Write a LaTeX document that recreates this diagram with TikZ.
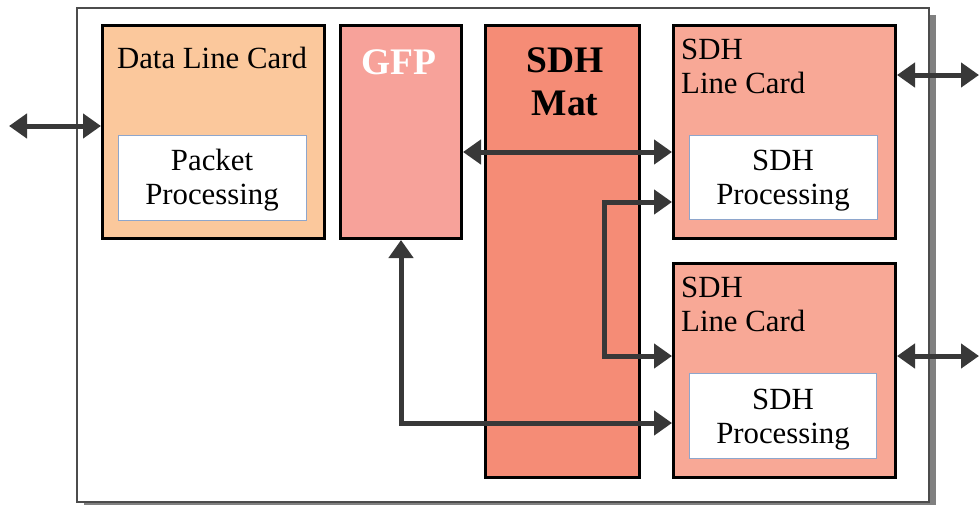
\documentclass[tikz,border=0pt]{standalone}
\usepackage{fontspec}
\setmainfont{Liberation Serif}
\usetikzlibrary{arrows.meta}
\definecolor{dlcfill}{HTML}{FBC89C}
\definecolor{gfpfill}{HTML}{F7A29A}
\definecolor{matfill}{HTML}{F58C76}
\definecolor{cardfill}{HTML}{F8A896}
\definecolor{arrcol}{HTML}{383838}
\definecolor{innerborder}{HTML}{8EA6CC}
\tikzset{
  card/.style={draw=black, line width=3pt, anchor=north west, inner sep=0pt},
  innerbox/.style={draw=innerborder, line width=1pt, fill=white, anchor=north west, inner sep=0pt},
  txt/.style={inner sep=0pt, font=\fontsize{30.8}{34}\selectfont},
  btxt/.style={inner sep=0pt, font=\fontsize{37.5}{43}\selectfont\bfseries},
  conn/.style={draw=arrcol, line width=5pt},
  tipB/.style={{Triangle[length=18pt,width=24pt]}-{Triangle[length=18pt,width=24pt]}},
}
\begin{document}
\begin{tikzpicture}[x=1pt,y=-1pt]
\useasboundingbox (0,0) rectangle (979,504);
% frame with shadow
\fill[black!50] (84,15) rectangle (936,510);
\node[draw=black!70, line width=1.8pt, fill=white, anchor=north west, inner sep=0pt,
      minimum width=852pt, minimum height=494pt] (frame) at (76,7) {};
% boxes
\node[card, fill=dlcfill, minimum width=222pt, minimum height=213pt] (dlc) at (101,24) {};
\node[innerbox, minimum width=188pt, minimum height=85pt] (pp) at (118,135) {};
\node[card, fill=gfpfill, minimum width=121pt, minimum height=213pt] (gfp) at (339,24) {};
\node[card, fill=matfill, minimum width=154pt, minimum height=452pt] (mat) at (484,24) {};
\node[card, fill=cardfill, minimum width=222pt, minimum height=213pt] (c1) at (672,24) {};
\node[innerbox, minimum width=188pt, minimum height=84pt] (p1) at (689,135) {};
\node[card, fill=cardfill, minimum width=222pt, minimum height=214pt] (c2) at (672,262) {};
\node[innerbox, minimum width=187pt, minimum height=85pt] (p2) at (689,373) {};
% texts (base anchor = baseline of last line)
\node[txt, anchor=base] (tdlc) at (212,68) {Data Line Card};
\node[txt, anchor=base, align=center] (tpp) at (212,204) {Packet\\Processing};
\node[btxt, anchor=base, text=white] (tgfp) at (399,74) {GFP};
\node[btxt, anchor=base, align=center] (tmat) at (565,115) {SDH\\Mat};
\node[txt, anchor=base west, align=left] (tc1) at (681,93) {SDH\\Line Card};
\node[txt, anchor=base, align=center] (tp1) at (783,204) {SDH\\Processing};
\node[txt, anchor=base west, align=left] (tc2) at (681,331) {SDH\\Line Card};
\node[txt, anchor=base, align=center] (tp2) at (783,443) {SDH\\Processing};
% helper coordinates
\coordinate (extL) at (9,126);
\coordinate (extR1) at (979,75);
\coordinate (extR2) at (979,356);
\coordinate (yA) at (0,152);
\coordinate (yB) at (0,202);
\coordinate (yC) at (0,356);
\coordinate (yD) at (0,423);
\coordinate (xV) at (604,0);
% connectors
\draw[conn, tipB] (extL) -- (extL -| dlc.west);
\draw[conn, tipB] (gfp.east |- yA) -- (c1.west |- yA);
\draw[conn, tipB] (c1.east |- extR1) -- (extR1);
\draw[conn, tipB] (c2.east |- extR2) -- (extR2);
\draw[conn, tipB] (c1.west |- yB) -- (xV |- yB) -- (xV |- yC) -- (c2.west |- yC);
\draw[conn, tipB] (gfp.south) -- (gfp.south |- yD) -- (c2.west |- yD);
\end{tikzpicture}
\end{document}
